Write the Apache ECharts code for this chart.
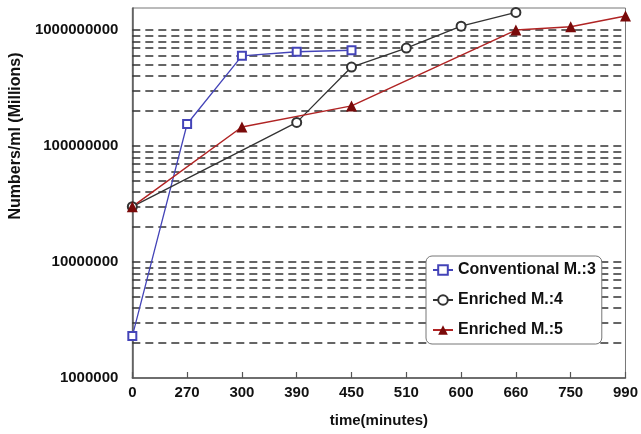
<!DOCTYPE html>
<html>
<head>
<meta charset="utf-8">
<script src="https://cdn.jsdelivr.net/npm/echarts@6/dist/echarts.min.js"></script>
<style>
  html, body { margin: 0; padding: 0; background: #fff; }
  #chart { width: 641px; height: 434px; }
</style>
</head>
<body>
<div id="chart"></div>
<script>
var times = ['0', '270', '300', '390', '450', '510', '600', '660', '750', '990'];

var conventional3 = [2.3e6, 1.55e8, 6.0e8, 6.5e8, 6.7e8, null, null, null, null, null];
var enriched4 = [3.0e7, null, null, 1.6e8, 4.8e8, 7.0e8, 1.08e9, 1.42e9, null, null];
var enriched5 = [3.0e7, null, 1.46e8, null, 2.22e8, null, null, 1.0e9, 1.07e9, 1.32e9];

var yLabels = [1e6, 1e7, 1e8, 1e9];

// dashed log grid: 2..10 x 10^n
var gridValues = [];
for (var n = 6; n <= 8; n++) {
    for (var k = 2; k <= 10; k++) {
        gridValues.push({ yAxis: k * Math.pow(10, n) });
    }
}

var font = "'Liberation Sans', Arial, sans-serif";

var option = {
    animation: false,
    backgroundColor: '#fff',
    grid: {
        left: 132,
        right: 11,
        top: 8,
        bottom: 56,
        show: true,
        borderColor: '#777',
        borderWidth: 1
    },
    legend: {
        data: ['Conventional M.:3', 'Enriched M.:4', 'Enriched M.:5'],
        orient: 'vertical',
        left: 426,
        top: 256,
        z: 20,
        padding: [6, 6, 6, 6],
        itemGap: 14,
        itemWidth: 20,
        itemHeight: 12,
        borderColor: '#777',
        borderWidth: 1,
        borderRadius: 6,
        backgroundColor: '#fff',
        textStyle: { fontFamily: font, fontWeight: 'bold', fontSize: 16, color: '#111' }
    },
    xAxis: {
        type: 'category',
        data: times,
        boundaryGap: false,
        name: 'time(minutes)',
        nameLocation: 'middle',
        nameGap: 35,
        nameTextStyle: { fontFamily: font, fontWeight: 'bold', fontSize: 15, color: '#111' },
        axisLine: { lineStyle: { color: '#555', width: 1.5 } },
        axisTick: { inside: true, length: 6, lineStyle: { color: '#555', width: 1.2 } },
        axisLabel: { margin: 7, fontFamily: font, fontWeight: 'bold', fontSize: 15, color: '#111' },
        splitLine: { show: false }
    },
    yAxis: {
        type: 'log',
        logBase: 10,
        min: 1e6,
        max: 1.55e9,
        name: 'Numbers/ml (Millions)',
        nameLocation: 'middle',
        nameGap: 100,
        nameTextStyle: {
            fontFamily: font, fontWeight: 'bold', fontSize: 16, color: '#111',
            padding: [0, 0, 0, 114]
        },
        axisLine: { show: true, lineStyle: { color: '#555', width: 1.5 } },
        axisTick: { show: false },
        splitLine: { show: false },
        axisLabel: {
            margin: 14,
            fontFamily: font, fontWeight: 'bold', fontSize: 15, color: '#111',
            showMaxLabel: false,
            formatter: function (v) {
                for (var i = 0; i < yLabels.length; i++) {
                    if (Math.abs(v - yLabels[i]) / yLabels[i] < 1e-6) return String(yLabels[i]);
                }
                return '';
            }
        }
    },
    series: [
        {
            name: 'grid',
            type: 'line',
            data: [],
            silent: true,
            z: 1,
            markLine: {
                silent: true,
                z: 1,
                symbol: ['none', 'none'],
                label: { show: false },
                lineStyle: { color: '#333', width: 1.5, type: [8, 5] },
                data: gridValues
            }
        },
        {
            name: 'Conventional M.:3',
            type: 'line',
            data: conventional3,
            connectNulls: true,
            symbol: 'emptyRect',
            symbolSize: 8,
            color: '#4444b8',
            lineStyle: { color: '#4444b8', width: 1.3 },
            itemStyle: { color: '#4444b8', borderColor: '#4444b8', borderWidth: 1.2 },
            z: 5
        },
        {
            name: 'Enriched M.:4',
            type: 'line',
            data: enriched4,
            connectNulls: true,
            symbol: 'emptyCircle',
            symbolSize: 9,
            color: '#333',
            lineStyle: { color: '#333', width: 1.3 },
            itemStyle: { color: '#333', borderColor: '#333', borderWidth: 1.2 },
            z: 5
        },
        {
            name: 'Enriched M.:5',
            type: 'line',
            data: enriched5,
            connectNulls: true,
            symbol: 'triangle',
            symbolSize: 11,
            color: '#7a0a0a',
            lineStyle: { color: '#b02424', width: 1.5 },
            itemStyle: { color: '#7a0a0a' },
            z: 5
        }
    ]
};

var chart = echarts.init(document.getElementById('chart'), null, { renderer: 'canvas' });
chart.setOption(option);
</script>
</body>
</html>
